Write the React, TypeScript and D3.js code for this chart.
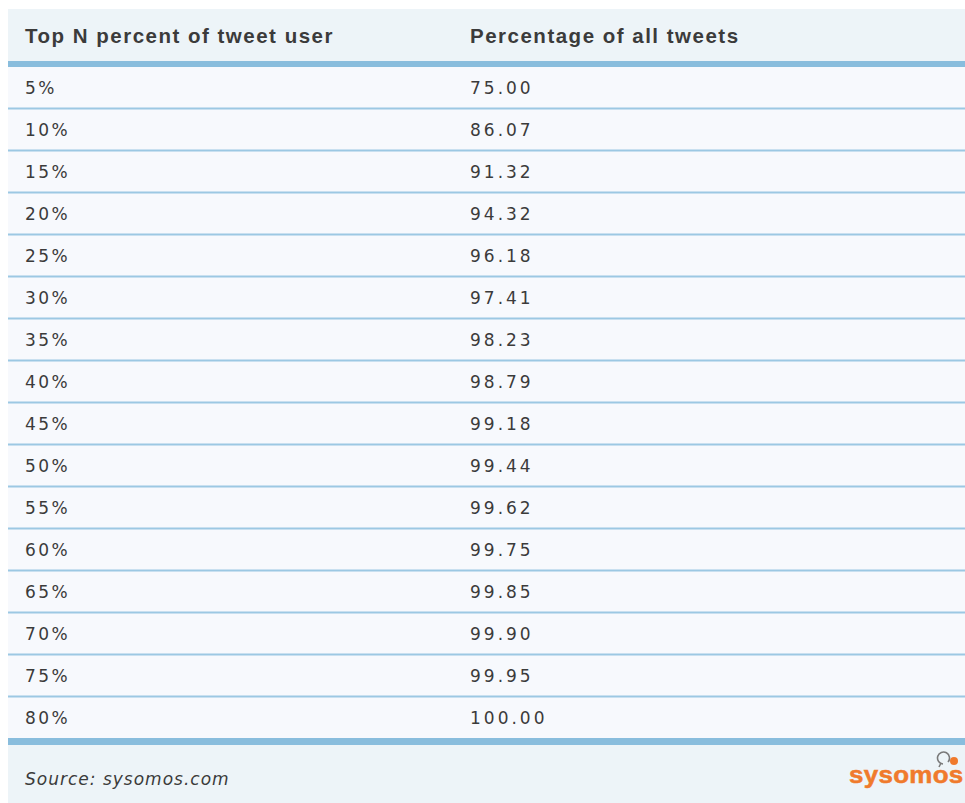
import React from "react";
import * as d3 from "d3";

const topPercents = ["5%", "10%", "15%", "20%", "25%", "30%", "35%", "40%", "45%", "50%", "55%", "60%", "65%", "70%", "75%", "80%"];
const tweetShares = [75.0, 86.07, 91.32, 94.32, 96.18, 97.41, 98.23, 98.79, 99.18, 99.44, 99.62, 99.75, 99.85, 99.9, 99.95, 100.0];
const headers = ["Top N percent of tweet user", "Percentage of all tweets"];
const sourceText = "Source: sysomos.com";
const brand = "sysomos";

const W = 965;
const H = 803;

export default function App() {
  const left = 8;
  const top = 9;
  const headerBottom = 61;
  const y = d3.scaleBand<string>().domain(topPercents).range([66, 738]).padding(0);
  const x = d3.scaleOrdinal<string, number>().domain(["c1", "c2"]).range([25, 470]);
  const fmt = d3.format(".2f");
  const bodyFont = "'DejaVu Sans', Verdana, sans-serif";
  const textColor = "#3b3b3b";
  return (
    <svg width={W} height={H} style={{ position: "absolute", left: 0, top: 0, background: "#fff" }}>
      <rect x={left} y={top} width={W - left} height={H - top} fill="#f7f9fd" />
      <rect x={left} y={top} width={W - left} height={headerBottom - top} fill="#edf4f8" />
      <rect x={left} y={headerBottom} width={W - left} height={6} fill="#89bddd" />
      {headers.map((h, i) => (
        <text key={h} x={x(i === 0 ? "c1" : "c2")} y={43} fontFamily="'Liberation Sans', Arial, sans-serif" fontWeight="bold" fontSize={20.5} letterSpacing={1.5} fill={textColor}>
          {h}
        </text>
      ))}
      {topPercents.map((p, i) => {
        const y0 = y(p)!;
        const yc = y0 + y.bandwidth() / 2;
        return (
          <g key={p}>
            <text x={x("c1")} y={yc + 7} fontFamily={bodyFont} fontSize={17} letterSpacing={2.4} fill={textColor}>
              {p}
            </text>
            <text x={x("c2")} y={yc + 7} fontFamily={bodyFont} fontSize={17} letterSpacing={3} fill={textColor}>
              {fmt(tweetShares[i])}
            </text>
            {i < topPercents.length - 1 && (
              <rect x={left} y={y0 + y.bandwidth() - 0.5} width={W - left} height={2} fill="#9cc8e3" />
            )}
          </g>
        );
      })}
      <rect x={left} y={738} width={W - left} height={7} fill="#89bddd" />
      <rect x={left} y={745} width={W - left} height={H - 745} fill="#edf4f8" />
      <text x={25} y={785} fontFamily={bodyFont} fontStyle="italic" fontSize={17} letterSpacing={1} fill={textColor}>
        {sourceText}
      </text>
      <text
        x={0}
        y={0}
        transform="translate(849,783) scale(1.08,1)"
        fontFamily="'Liberation Sans', Arial, sans-serif"
        fontWeight="bold"
        fontSize={24}
        letterSpacing={0.3}
        fill="#f07a2c"
        stroke="#f07a2c"
        strokeWidth={0.5}
      >
        {brand}
      </text>
      <g>
        <path d="M943,764 a6,6 0 1 1 5,-2" fill="none" stroke="#7a7a7a" strokeWidth={1.6} />
        <path d="M941,763 l-2,4" fill="none" stroke="#7a7a7a" strokeWidth={1.6} />
        <circle cx={954} cy={761} r={4} fill="#f07a2c" />
      </g>
    </svg>
  );
}
